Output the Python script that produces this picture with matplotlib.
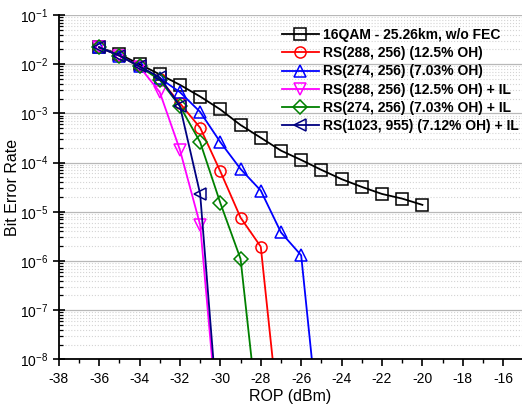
import matplotlib
matplotlib.use("Agg")
import matplotlib.pyplot as plt
from matplotlib.ticker import LogLocator, MultipleLocator, NullFormatter

plt.rcParams["font.family"] = ["Liberation Sans", "DejaVu Sans"]
plt.rcParams["axes.unicode_minus"] = False
plt.rcParams["mathtext.fontset"] = "custom"
plt.rcParams["mathtext.rm"] = "Liberation Sans"

# ROP (dBm) and BER per curve
rop_ref = [-36, -35, -34, -33, -32, -31, -30, -29, -28, -27, -26, -25, -24, -23, -22, -21, -20]
ber_ref = [2.2e-2, 1.6e-2, 1.0e-2, 6.2e-3, 3.8e-3, 2.2e-3, 1.2e-3, 5.8e-4, 3.2e-4,
           1.75e-4, 1.13e-4, 7.1e-5, 4.6e-5, 3.2e-5, 2.3e-5, 1.85e-5, 1.38e-5]

rop_rs288 = [-36, -35, -34, -33, -32, -31, -30, -29, -28, -27]
ber_rs288 = [2.2e-2, 1.5e-2, 9.0e-3, 5.0e-3, 1.6e-3, 5.1e-4, 6.6e-5, 7.6e-6, 1.95e-6, 2.5e-10]

rop_rs274 = [-36, -35, -34, -33, -32, -31, -30, -29, -28, -27, -26, -25]
ber_rs274 = [2.2e-2, 1.5e-2, 9.0e-3, 5.2e-3, 2.7e-3, 1.07e-3, 2.6e-4, 7.4e-5, 2.7e-5,
             3.8e-6, 1.3e-6, 1.3e-10]

rop_rs288_il = [-36, -35, -34, -33, -32, -31, -30]
ber_rs288_il = [2.2e-2, 1.5e-2, 8.9e-3, 2.7e-3, 1.8e-4, 5.4e-6, 1.3e-10]

rop_rs274_il = [-36, -35, -34, -33, -32, -31, -30, -29, -28]
ber_rs274_il = [2.2e-2, 1.5e-2, 9.0e-3, 4.8e-3, 1.4e-3, 2.6e-4, 1.5e-5, 1.1e-6, 2.0e-10]

rop_rs1023_il = [-36, -35, -34, -33, -32, -31, -30]
ber_rs1023_il = [2.2e-2, 1.5e-2, 9.0e-3, 5.4e-3, 1.4e-3, 2.3e-5, 1.6e-10]

series = [
    (rop_ref, ber_ref, "16QAM - 25.26km, w/o FEC", "black", "s"),
    (rop_rs288, ber_rs288, "RS(288, 256) (12.5% OH)", "#ff0000", "o"),
    (rop_rs274, ber_rs274, "RS(274, 256) (7.03% OH)", "#0000ff", "^"),
    (rop_rs288_il, ber_rs288_il, "RS(288, 256) (12.5% OH) + IL", "#ff00ff", "v"),
    (rop_rs274_il, ber_rs274_il, "RS(274, 256) (7.03% OH) + IL", "#008000", "D"),
    (rop_rs1023_il, ber_rs1023_il, "RS(1023, 955) (7.12% OH) + IL", "#000080", "<"),
]

fig = plt.figure(figsize=(5.22, 4.09), dpi=100)
ax = fig.add_axes([0.1125, 0.1215, 0.8875, 0.8418])

for x, y, label, color, marker in series:
    ms = 7 if marker == "D" else 8
    ax.plot(x, y, color=color, marker=marker, markersize=ms, markerfacecolor="none",
            markeredgecolor=color, markeredgewidth=1.1, linewidth=1.3, label=label)

ax.set_yscale("log")
ax.set_ylim(1e-8, 1e-1)
ax.set_xlim(-38, -15.07)

ax.xaxis.set_major_locator(MultipleLocator(2))
ax.xaxis.set_minor_locator(MultipleLocator(1))
ax.yaxis.set_major_locator(LogLocator(base=10, numticks=20))
ax.yaxis.set_minor_locator(LogLocator(base=10, subs=range(2, 10), numticks=20))
ax.yaxis.set_minor_formatter(NullFormatter())

ax.grid(True, axis="y", which="major", color="#b8b8b8", linestyle="-", linewidth=0.9)
ax.grid(True, axis="y", which="minor", color="#d4d4d4", linestyle=":", linewidth=0.8)
ax.set_axisbelow(True)

for side in ["top", "right"]:
    ax.spines[side].set_visible(False)
for side in ["left", "bottom"]:
    ax.spines[side].set_linewidth(1.3)

ax.tick_params(axis="x", which="major", direction="out", length=5, width=1.2,
               labelsize=10, pad=4)
ax.tick_params(axis="x", which="minor", direction="out", length=3, width=1.0)
ax.tick_params(axis="y", which="major", direction="inout", length=8, width=1.2, labelsize=10)
ax.tick_params(axis="y", which="minor", direction="in", length=3, width=0.9)

ax.set_xlabel("ROP (dBm)", fontsize=11.5)
ax.set_ylabel("Bit Error Rate", fontsize=11.5)
ax.xaxis.label.set_va("center")
ax.yaxis.label.set_va("center")
ax.xaxis.set_label_coords(0.5, -0.1066)
ax.yaxis.set_label_coords(-0.1008, 0.5)

ax.legend(loc="upper left", bbox_to_anchor=(0.466, 0.982), frameon=False, borderpad=0,
          handlelength=2.7, handletextpad=0.3, labelspacing=0.3,
          prop={"weight": "bold", "size": 10})

fig.savefig("out.png", dpi=100)
